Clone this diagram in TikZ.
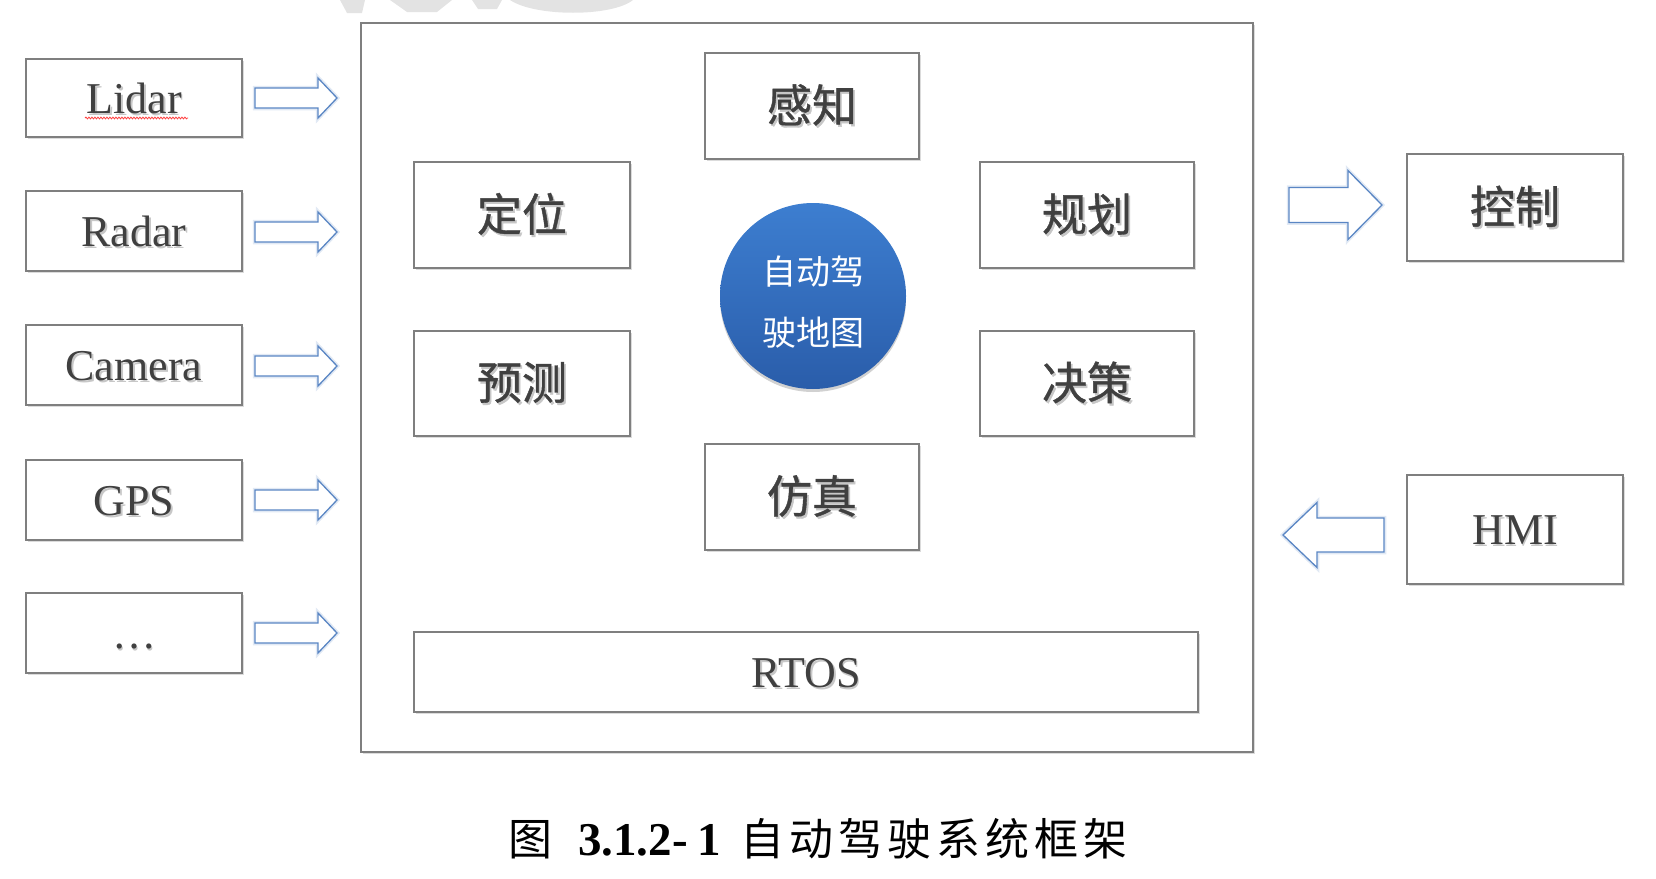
\documentclass[tikz,border=0pt]{standalone}
\usepackage{fontspec}
\setmainfont{Liberation Serif}
\newfontfamily\cjk{Noto Sans CJK SC}
\newfontfamily\cjkm[FakeBold=0.9]{Noto Sans CJK SC}
\usetikzlibrary{shadows,decorations.pathmorphing}
\definecolor{boxgray}{HTML}{7F7F7F}
\definecolor{txtgray}{HTML}{404040}
\definecolor{arrowblue}{HTML}{5A86C4}
\definecolor{circtop}{HTML}{3D7ED0}
\definecolor{circbot}{HTML}{2A5DAA}
\definecolor{wm}{HTML}{E3E3E3}
\newcommand\shadowtext[1]{\makebox[0pt][l]{\hspace{1.8pt}\raisebox{-2.2pt}{\color{black!22}#1}}#1}
% tail x, tip x, y, shaft half, head half, head base x
\newcommand\fatarrow[6]{\draw[blockarrow] (#1,#3-#4) -- (#6,#3-#4) -- (#6,#3-#5) -- (#2,#3) -- (#6,#3+#5) -- (#6,#3+#4) -- (#1,#3+#4) -- cycle;}
\tikzset{
  box/.style={draw=boxgray, line width=1.6pt, fill=white, inner sep=0pt,
    drop shadow={shadow xshift=1.5pt, shadow yshift=-2pt, fill=black, opacity=0.14}},
  latinlbl/.style={font=\fontsize{44}{50}\selectfont, text=txtgray, text height=30pt, text depth=0pt},
  cjklbl/.style={font=\cjkm\fontsize{45}{50}\selectfont, text=txtgray},
  blockarrow/.style={draw=arrowblue, line width=1.3pt, fill=white, line join=miter,
    preaction={draw=arrowblue!18, line width=4.5pt}},
  captxt/.style={anchor=base west, inner sep=0pt, text=black},
}
\begin{document}
\begin{tikzpicture}[x=1pt, y=-1pt]
\useasboundingbox (0,0) rectangle (1656,878);
% watermark remnants
\fill[wm] (340,0) -- (365,0) -- (362,13) -- (347,13) -- cycle;
\fill[wm] (390,0) -- (452,0) -- (437,12) -- (407,12) -- cycle;
\fill[wm] (472,0) -- (502,0) -- (497,9) -- (478,9) -- cycle;
\fill[wm] (510,0) -- (633,0) .. controls (612,17) and (535,17) .. cycle;
% main frame
\node[box, minimum width=892, minimum height=729] (main) at (807,387.5) {};
% sensors
\node[box, latinlbl, minimum width=216, minimum height=78] (lidar) at (134,98) {\shadowtext{Lidar}};
\node[box, latinlbl, minimum width=216, minimum height=80] (radar) at (134,231) {\shadowtext{Radar}};
\node[box, latinlbl, minimum width=216, minimum height=80] (camera) at (134,365) {\shadowtext{Camera}};
\node[box, latinlbl, minimum width=216, minimum height=80] (gps) at (134,500) {\shadowtext{GPS}};
\node[box, latinlbl, minimum width=216, minimum height=80] (more) at (134,633) {\shadowtext{…}};
\draw[red!75, line width=0.8pt, decorate, decoration={snake, amplitude=0.9pt, segment length=3pt}] (85,118) -- (188,118);
% input arrows
\fatarrow{255}{337}{98}{10}{20}{318}
\fatarrow{255}{337}{232}{10}{20}{318}
\fatarrow{255}{337}{366}{10}{20}{318}
\fatarrow{255}{337}{500}{10}{20}{318}
\fatarrow{255}{337}{633}{10}{20}{318}
% modules
\node[box, cjklbl, minimum width=214, minimum height=106] (perception) at (812,106) {\shadowtext{感知}};
\node[box, cjklbl, minimum width=216, minimum height=106] (localization) at (522,215) {\shadowtext{定位}};
\node[box, cjklbl, minimum width=214, minimum height=106] (planning) at (1087,215) {\shadowtext{规划}};
\node[box, cjklbl, minimum width=216, minimum height=105] (prediction) at (522,383.5) {\shadowtext{预测}};
\node[box, cjklbl, minimum width=214, minimum height=105] (decision) at (1087,383.5) {\shadowtext{决策}};
\node[box, cjklbl, minimum width=214, minimum height=106] (simulation) at (812,497) {\shadowtext{仿真}};
\node[box, latinlbl, minimum width=784, minimum height=80] (rtos) at (806,672) {\shadowtext{RTOS}};
% HD map circle
\node[circle, minimum size=186, inner sep=0pt, top color=circtop, bottom color=circbot,
  drop shadow={shadow xshift=0pt, shadow yshift=-3pt, fill=black, opacity=0.18}] (hdmap) at (813,296) {};
\node[align=center, text=white, font=\cjk\fontsize{34}{61}\selectfont] (hdmaptext) at (813,302) {自动驾\\驶地图};
% outputs
\node[box, cjklbl, minimum width=216, minimum height=107] (control) at (1515,207.5) {\shadowtext{控制}};
\node[box, latinlbl, minimum width=216, minimum height=109] (hmi) at (1515,529.5) {\shadowtext{HMI}};
\fatarrow{1289}{1382}{205}{17.5}{34.5}{1348}
\fatarrow{1384}{1283}{535}{17}{32.5}{1317}
% caption
\node[captxt, font=\cjk\fontsize{44}{50}\selectfont] (capfig) at (508,855) {图};
\node[captxt, font=\bfseries\fontsize{47}{50}\selectfont] (capnum) at (578,855) {3.1.2-\hspace{10pt}1};
\node[captxt, font=\cjk\fontsize{44}{50}\selectfont] (captitle) at (740,855)
  {自\hspace{5pt}动\hspace{5pt}驾\hspace{5pt}驶\hspace{5pt}系\hspace{5pt}统\hspace{5pt}框\hspace{5pt}架};
\end{tikzpicture}
\end{document}
